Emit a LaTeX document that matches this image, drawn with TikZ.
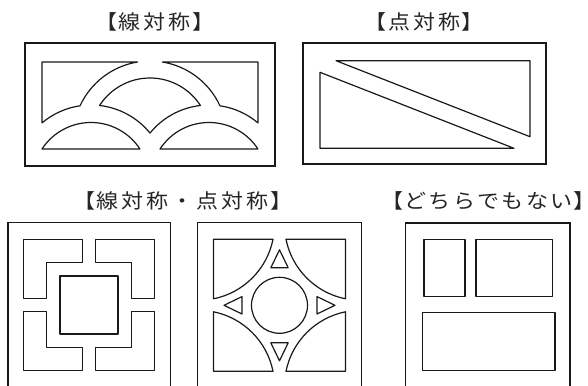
\documentclass[tikz,border=0pt]{standalone}
\usepackage{fontspec}
\newfontfamily\jp{Noto Sans CJK JP}[FakeStretch=1.1]
\tikzset{
  piece/.style={draw=black!90, line width=0.9pt, line join=round},
  frame/.style={draw=black!90, line width=0.9pt},
  title/.style={font=\jp\fontsize{15}{17}\selectfont, inner sep=0pt, anchor=center, text=black!85},
}
\newlength{\pitch}
\setlength{\pitch}{18.75pt}
\newcommand{\cj}[1]{\makebox[\pitch][c]{#1}}
\newcommand{\ob}{\makebox[8pt][r]{【}}
\newcommand{\cb}{\makebox[8pt][l]{】}}
\begin{document}
\begin{tikzpicture}[x=0.75pt,y=-0.75pt]
\useasboundingbox (0,0) rectangle (588,385);
\clip (0,0) rectangle (588,385);

% titles
\node[title] (t1) at (155,21.7) {\ob\cj{線}\cj{対}\cj{称}\cb};
\node[title] (t2) at (424.3,21.7) {\ob\cj{点}\cj{対}\cj{称}\cb};
\node[title] (t3) at (183,200.7) {\ob\cj{線}\cj{対}\cj{称}\cj{・}\cj{点}\cj{対}\cj{称}\cb};
\node[title] (t4) at (488.5,200.7) {\setlength{\pitch}{18.3pt}\ob\cj{ど}\cj{ち}\cj{ら}\cj{で}\cj{も}\cj{な}\cj{い}\cb};

% figure 1 : line symmetric
\draw[frame] (25,43) rectangle (275,166);
\draw[piece] (42,62) -- (137.63,62) arc[start angle=-99.24, end angle=-155.28, radius=77]
  arc[start angle=-98.28, end angle=-130.15, radius=76] -- cycle;
\draw[piece] (258,62) -- (162.37,62) arc[start angle=-80.76, end angle=-24.72, radius=77]
  arc[start angle=-81.72, end angle=-49.85, radius=76] -- cycle;
\draw[piece] (99.57,105.48) arc[start angle=-147.19, end angle=-32.81, radius=60]
  arc[start angle=-96.47, end angle=-140.92, radius=76]
  arc[start angle=-39.08, end angle=-83.53, radius=76] -- cycle;
\draw[piece] (42,149) arc[start angle=-146.85, end angle=-33.15, radius=58.5] -- cycle;
\draw[piece] (160,149) arc[start angle=-146.85, end angle=-33.15, radius=58.5] -- cycle;

% figure 2 : point symmetric
\draw[frame] (303,43) rectangle (546,164);
\draw[piece] (336,60.7) -- (530,60.7) -- (530,136.7) -- cycle;
\draw[piece] (320,72.3) -- (320,148.3) -- (514,148.3) -- cycle;

% figure 3
\draw[frame] (8,400) -- (8,222.7) -- (170.5,222.7) -- (170.5,400);
\foreach \sx/\sy in {1/1,-1/1,1/-1,-1/-1}{
  \begin{scope}[shift={(89,305)}, xscale=\sx, yscale=\sy]
    \draw[piece] (-65.3,-65.3) -- (-6.5,-65.3) -- (-6.5,-42.3) -- (-42.3,-42.3)
      -- (-42.3,-6.5) -- (-65.3,-6.5) -- cycle;
  \end{scope}
}
\draw[piece] (60,276) rectangle (118,334);

% figure 4
\draw[frame] (197.3,400) -- (197.3,222.7) -- (361.7,222.7) -- (361.7,400);
\foreach \sx/\sy in {1/1,-1/1,1/-1,-1/-1}{
  \begin{scope}[shift={(279.5,305.3)}, xscale=\sx, yscale=\sy]
    \draw[piece] (-66,-66) -- (-6.5,-66) arc[start angle=11.38, end angle=78.62, radius=76] -- cycle;
  \end{scope}
}
\foreach \a in {0,90,180,270}{
  \begin{scope}[shift={(279.5,305.3)}, rotate=\a]
    \draw[piece] (0,-55.5) -- (-8.7,-37.5) -- (8.7,-37.5) -- cycle;
  \end{scope}
}
\draw[piece] (279.5,305.3) circle[radius=28];

% figure 5
\draw[frame] (405.7,400) -- (405.7,223) -- (570,223) -- (570,400);
\draw[piece] (424,239.3) rectangle (465,296.7);
\draw[piece] (476,239.3) rectangle (552.7,296.7);
\draw[piece] (422.7,312.3) rectangle (555,370.7);
\end{tikzpicture}
\end{document}
